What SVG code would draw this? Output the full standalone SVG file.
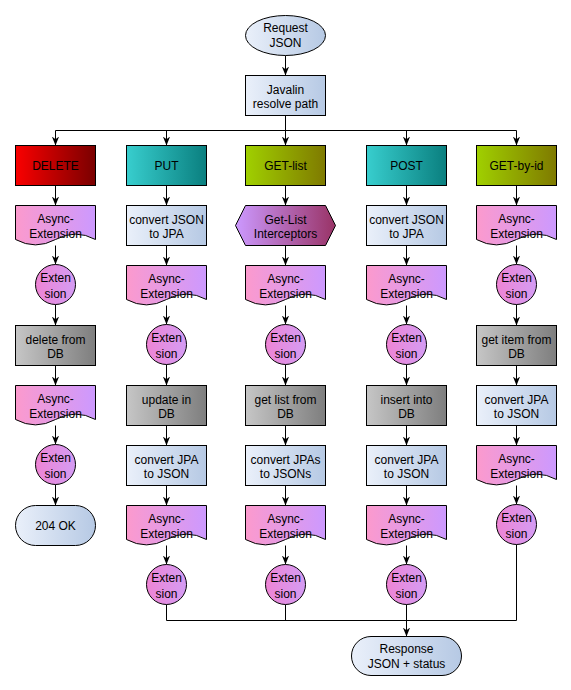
<svg xmlns="http://www.w3.org/2000/svg" width="571" height="690" viewBox="0 0 571 690">
<style>
.s{stroke:#000;stroke-width:1}
.t{font-family:"Liberation Sans",Arial,sans-serif;font-size:12px;text-anchor:middle;fill:#000}
.c{fill:none;stroke:#000;stroke-width:1}
.a{marker-end:url(#arr)}
.red{fill:url(#gRed)}
.teal{fill:url(#gTeal)}
.olive{fill:url(#gOlive)}
.gray{fill:url(#gGray)}
.blue{fill:url(#gBlue)}
.doc{fill:url(#gDoc)}
.circ{fill:url(#gCirc)}
.hex{fill:url(#gHex)}
</style>
<defs>
<marker id="arr" viewBox="0 0 10 10" refX="10" refY="5" markerWidth="9" markerHeight="9" orient="auto" markerUnits="userSpaceOnUse"><path d="M0,1 L10,5 L0,9 L3,5 z" fill="#000"/></marker>
<linearGradient id="gRed" x1="0" y1="0" x2="1" y2="0"><stop offset="0" stop-color="#FA0000"/><stop offset="1" stop-color="#7A0000"/></linearGradient>
<linearGradient id="gTeal" x1="0" y1="0" x2="1" y2="0"><stop offset="0" stop-color="#38CECE"/><stop offset="1" stop-color="#0A7F7F"/></linearGradient>
<linearGradient id="gOlive" x1="0" y1="0" x2="1" y2="0"><stop offset="0" stop-color="#A0D000"/><stop offset="1" stop-color="#7F7A00"/></linearGradient>
<linearGradient id="gGray" x1="0" y1="0" x2="1" y2="0"><stop offset="0" stop-color="#C6C6C6"/><stop offset="1" stop-color="#7E7E7E"/></linearGradient>
<linearGradient id="gBlue" x1="0" y1="0" x2="1" y2="0"><stop offset="0" stop-color="#EAF0FA"/><stop offset="1" stop-color="#B6C9E4"/></linearGradient>
<linearGradient id="gDoc" x1="0" y1="0" x2="1" y2="0"><stop offset="0" stop-color="#FC9ACD"/><stop offset="1" stop-color="#CC99FF"/></linearGradient>
<linearGradient id="gCirc" x1="0" y1="0" x2="1" y2="0"><stop offset="0" stop-color="#EE84D4"/><stop offset="1" stop-color="#D49CF4"/></linearGradient>
<linearGradient id="gHex" x1="0" y1="0" x2="1" y2="0"><stop offset="0" stop-color="#CC99FF"/><stop offset="1" stop-color="#993366"/></linearGradient>
</defs>

<g id="connectors">
<line class="c a" x1="285.5" y1="55.5" x2="285.5" y2="75.5"/>
<line class="c a" x1="285.5" y1="115.5" x2="285.5" y2="145.5"/>
<polyline class="c" points="55.5,130.5 516.5,130.5"/>
<line class="c a" x1="55.5" y1="130.5" x2="55.5" y2="145.5"/>
<line class="c a" x1="166.5" y1="130.5" x2="166.5" y2="145.5"/>
<line class="c a" x1="406.5" y1="130.5" x2="406.5" y2="145.5"/>
<line class="c a" x1="516.5" y1="130.5" x2="516.5" y2="145.5"/>
<!-- DELETE column -->
<line class="c a" x1="55.5" y1="185.5" x2="55.5" y2="205.5"/>
<line class="c a" x1="55.5" y1="245.5" x2="55.5" y2="264.5"/>
<line class="c a" x1="55.5" y1="304.5" x2="55.5" y2="325.5"/>
<line class="c a" x1="55.5" y1="365.5" x2="55.5" y2="385.5"/>
<line class="c a" x1="55.5" y1="425.5" x2="55.5" y2="444.5"/>
<line class="c a" x1="55.5" y1="484.5" x2="55.5" y2="505.5"/>
<!-- PUT column -->
<line class="c a" x1="166.5" y1="185.5" x2="166.5" y2="205.5"/>
<line class="c a" x1="166.5" y1="245.5" x2="166.5" y2="265.5"/>
<line class="c a" x1="166.5" y1="305.5" x2="166.5" y2="324.5"/>
<line class="c a" x1="166.5" y1="364.5" x2="166.5" y2="385.5"/>
<line class="c a" x1="166.5" y1="425.5" x2="166.5" y2="445.5"/>
<line class="c a" x1="166.5" y1="485.5" x2="166.5" y2="505.5"/>
<line class="c a" x1="166.5" y1="545.5" x2="166.5" y2="564.5"/>
<!-- GET-list column -->
<line class="c a" x1="285.5" y1="185.5" x2="285.5" y2="205.5"/>
<line class="c a" x1="285.5" y1="245.5" x2="285.5" y2="265.5"/>
<line class="c a" x1="285.5" y1="305.5" x2="285.5" y2="324.5"/>
<line class="c a" x1="285.5" y1="364.5" x2="285.5" y2="385.5"/>
<line class="c a" x1="285.5" y1="425.5" x2="285.5" y2="445.5"/>
<line class="c a" x1="285.5" y1="485.5" x2="285.5" y2="505.5"/>
<line class="c a" x1="285.5" y1="545.5" x2="285.5" y2="564.5"/>
<!-- POST column -->
<line class="c a" x1="406.5" y1="185.5" x2="406.5" y2="205.5"/>
<line class="c a" x1="406.5" y1="245.5" x2="406.5" y2="265.5"/>
<line class="c a" x1="406.5" y1="305.5" x2="406.5" y2="324.5"/>
<line class="c a" x1="406.5" y1="364.5" x2="406.5" y2="385.5"/>
<line class="c a" x1="406.5" y1="425.5" x2="406.5" y2="445.5"/>
<line class="c a" x1="406.5" y1="485.5" x2="406.5" y2="505.5"/>
<line class="c a" x1="406.5" y1="545.5" x2="406.5" y2="564.5"/>
<!-- GET-by-id column -->
<line class="c a" x1="516.5" y1="185.5" x2="516.5" y2="205.5"/>
<line class="c a" x1="516.5" y1="245.5" x2="516.5" y2="264.5"/>
<line class="c a" x1="516.5" y1="304.5" x2="516.5" y2="325.5"/>
<line class="c a" x1="516.5" y1="365.5" x2="516.5" y2="385.5"/>
<line class="c a" x1="516.5" y1="425.5" x2="516.5" y2="445.5"/>
<line class="c a" x1="516.5" y1="485.5" x2="516.5" y2="504.5"/>
<!-- merge to response -->
<polyline class="c" points="166.5,604.5 166.5,620.5 516.5,620.5 516.5,544.5"/>
<line class="c" x1="285.5" y1="604.5" x2="285.5" y2="620.5"/>
<line class="c a" x1="406.5" y1="604.5" x2="406.5" y2="636.5"/>
</g>

<g id="request"><ellipse class="s blue" cx="285.5" cy="35.5" rx="40" ry="20"/><text class="t" x="285.5" y="32">Request</text><text class="t" x="285.5" y="46.5">JSON</text></g>
<g id="javalin"><rect class="s blue" x="245.5" y="75.5" width="80" height="40"/><text class="t" x="285.5" y="93.5">Javalin</text><text class="t" x="285.5" y="108">resolve path</text></g>

<!-- DELETE column -->
<g id="delete"><rect class="s red" x="15.5" y="145.5" width="80" height="40"/><text class="t" x="55.5" y="170">DELETE</text></g>
<g id="del-async1"><path class="s doc" d="M15.5,205.5 H95.5 V239.5 Q75.5,228.7 55.5,239.5 Q35.5,250.3 15.5,239.5 Z"/><text class="t" x="55.5" y="223">Async-</text><text class="t" x="55.5" y="237.5">Extension</text></g>
<g id="del-ext1"><circle class="s circ" cx="55.5" cy="284.5" r="20"/><text class="t" x="55.5" y="282">Exten</text><text class="t" x="55.5" y="297.5">sion</text></g>
<g id="del-db"><rect class="s gray" x="15.5" y="325.5" width="80" height="40"/><text class="t" x="55.5" y="343.5">delete from</text><text class="t" x="55.5" y="358">DB</text></g>
<g id="del-async2"><path class="s doc" d="M15.5,385.5 H95.5 V419.5 Q75.5,408.7 55.5,419.5 Q35.5,430.3 15.5,419.5 Z"/><text class="t" x="55.5" y="403">Async-</text><text class="t" x="55.5" y="417.5">Extension</text></g>
<g id="del-ext2"><circle class="s circ" cx="55.5" cy="464.5" r="20"/><text class="t" x="55.5" y="462">Exten</text><text class="t" x="55.5" y="477.5">sion</text></g>
<g id="ok204"><rect class="s blue" x="15.5" y="505.5" width="80" height="40" rx="20" ry="20"/><text class="t" x="55.5" y="530">204 OK</text></g>

<!-- PUT column -->
<g id="put"><rect class="s teal" x="126.5" y="145.5" width="80" height="40"/><text class="t" x="166.5" y="170">PUT</text></g>
<g id="put-conv1"><rect class="s blue" x="126.5" y="205.5" width="80" height="40"/><text class="t" x="166.5" y="223.5">convert JSON</text><text class="t" x="166.5" y="238">to JPA</text></g>
<g id="put-async1"><path class="s doc" d="M126.5,265.5 H206.5 V299.5 Q186.5,288.7 166.5,299.5 Q146.5,310.3 126.5,299.5 Z"/><text class="t" x="166.5" y="283">Async-</text><text class="t" x="166.5" y="297.5">Extension</text></g>
<g id="put-ext1"><circle class="s circ" cx="166.5" cy="344.5" r="20"/><text class="t" x="166.5" y="342">Exten</text><text class="t" x="166.5" y="357.5">sion</text></g>
<g id="put-db"><rect class="s gray" x="126.5" y="385.5" width="80" height="40"/><text class="t" x="166.5" y="403.5">update in</text><text class="t" x="166.5" y="418">DB</text></g>
<g id="put-conv2"><rect class="s blue" x="126.5" y="445.5" width="80" height="40"/><text class="t" x="166.5" y="463.5">convert JPA</text><text class="t" x="166.5" y="478">to JSON</text></g>
<g id="put-async2"><path class="s doc" d="M126.5,505.5 H206.5 V539.5 Q186.5,528.7 166.5,539.5 Q146.5,550.3 126.5,539.5 Z"/><text class="t" x="166.5" y="523">Async-</text><text class="t" x="166.5" y="537.5">Extension</text></g>
<g id="put-ext2"><circle class="s circ" cx="166.5" cy="584.5" r="20"/><text class="t" x="166.5" y="582">Exten</text><text class="t" x="166.5" y="597.5">sion</text></g>

<!-- GET-list column -->
<g id="getlist"><rect class="s olive" x="245.5" y="145.5" width="80" height="40"/><text class="t" x="285.5" y="170">GET-list</text></g>
<g id="gl-interceptors"><polygon class="s hex" points="235.5,225.5 245.5,205.5 325.5,205.5 335.5,225.5 325.5,245.5 245.5,245.5"/><text class="t" x="285.5" y="223.5">Get-List</text><text class="t" x="285.5" y="238">Interceptors</text></g>
<g id="gl-async1"><path class="s doc" d="M245.5,265.5 H325.5 V299.5 Q305.5,288.7 285.5,299.5 Q265.5,310.3 245.5,299.5 Z"/><text class="t" x="285.5" y="283">Async-</text><text class="t" x="285.5" y="297.5">Extension</text></g>
<g id="gl-ext1"><circle class="s circ" cx="285.5" cy="344.5" r="20"/><text class="t" x="285.5" y="342">Exten</text><text class="t" x="285.5" y="357.5">sion</text></g>
<g id="gl-db"><rect class="s gray" x="245.5" y="385.5" width="80" height="40"/><text class="t" x="285.5" y="403.5">get list from</text><text class="t" x="285.5" y="418">DB</text></g>
<g id="gl-conv"><rect class="s blue" x="245.5" y="445.5" width="80" height="40"/><text class="t" x="285.5" y="463.5">convert JPAs</text><text class="t" x="285.5" y="478">to JSONs</text></g>
<g id="gl-async2"><path class="s doc" d="M245.5,505.5 H325.5 V539.5 Q305.5,528.7 285.5,539.5 Q265.5,550.3 245.5,539.5 Z"/><text class="t" x="285.5" y="523">Async-</text><text class="t" x="285.5" y="537.5">Extension</text></g>
<g id="gl-ext2"><circle class="s circ" cx="285.5" cy="584.5" r="20"/><text class="t" x="285.5" y="582">Exten</text><text class="t" x="285.5" y="597.5">sion</text></g>

<!-- POST column -->
<g id="post"><rect class="s teal" x="366.5" y="145.5" width="80" height="40"/><text class="t" x="406.5" y="170">POST</text></g>
<g id="post-conv1"><rect class="s blue" x="366.5" y="205.5" width="80" height="40"/><text class="t" x="406.5" y="223.5">convert JSON</text><text class="t" x="406.5" y="238">to JPA</text></g>
<g id="post-async1"><path class="s doc" d="M366.5,265.5 H446.5 V299.5 Q426.5,288.7 406.5,299.5 Q386.5,310.3 366.5,299.5 Z"/><text class="t" x="406.5" y="283">Async-</text><text class="t" x="406.5" y="297.5">Extension</text></g>
<g id="post-ext1"><circle class="s circ" cx="406.5" cy="344.5" r="20"/><text class="t" x="406.5" y="342">Exten</text><text class="t" x="406.5" y="357.5">sion</text></g>
<g id="post-db"><rect class="s gray" x="366.5" y="385.5" width="80" height="40"/><text class="t" x="406.5" y="403.5">insert into</text><text class="t" x="406.5" y="418">DB</text></g>
<g id="post-conv2"><rect class="s blue" x="366.5" y="445.5" width="80" height="40"/><text class="t" x="406.5" y="463.5">convert JPA</text><text class="t" x="406.5" y="478">to JSON</text></g>
<g id="post-async2"><path class="s doc" d="M366.5,505.5 H446.5 V539.5 Q426.5,528.7 406.5,539.5 Q386.5,550.3 366.5,539.5 Z"/><text class="t" x="406.5" y="523">Async-</text><text class="t" x="406.5" y="537.5">Extension</text></g>
<g id="post-ext2"><circle class="s circ" cx="406.5" cy="584.5" r="20"/><text class="t" x="406.5" y="582">Exten</text><text class="t" x="406.5" y="597.5">sion</text></g>

<!-- GET-by-id column -->
<g id="getbyid"><rect class="s olive" x="476.5" y="145.5" width="80" height="40"/><text class="t" x="516.5" y="170">GET-by-id</text></g>
<g id="gid-async1"><path class="s doc" d="M476.5,205.5 H556.5 V239.5 Q536.5,228.7 516.5,239.5 Q496.5,250.3 476.5,239.5 Z"/><text class="t" x="516.5" y="223">Async-</text><text class="t" x="516.5" y="237.5">Extension</text></g>
<g id="gid-ext1"><circle class="s circ" cx="516.5" cy="284.5" r="20"/><text class="t" x="516.5" y="282">Exten</text><text class="t" x="516.5" y="297.5">sion</text></g>
<g id="gid-db"><rect class="s gray" x="476.5" y="325.5" width="80" height="40"/><text class="t" x="516.5" y="343.5">get item from</text><text class="t" x="516.5" y="358">DB</text></g>
<g id="gid-conv"><rect class="s blue" x="476.5" y="385.5" width="80" height="40"/><text class="t" x="516.5" y="403.5">convert JPA</text><text class="t" x="516.5" y="418">to JSON</text></g>
<g id="gid-async2"><path class="s doc" d="M476.5,445.5 H556.5 V479.5 Q536.5,468.7 516.5,479.5 Q496.5,490.3 476.5,479.5 Z"/><text class="t" x="516.5" y="463">Async-</text><text class="t" x="516.5" y="477.5">Extension</text></g>
<g id="gid-ext2"><circle class="s circ" cx="516.5" cy="524.5" r="20"/><text class="t" x="516.5" y="522">Exten</text><text class="t" x="516.5" y="537.5">sion</text></g>

<g id="response"><rect class="s blue" x="351.5" y="636.5" width="110" height="39" rx="19.5" ry="19.5"/><text class="t" x="406.5" y="653">Response</text><text class="t" x="406.5" y="667.5">JSON + status</text></g>
</svg>
